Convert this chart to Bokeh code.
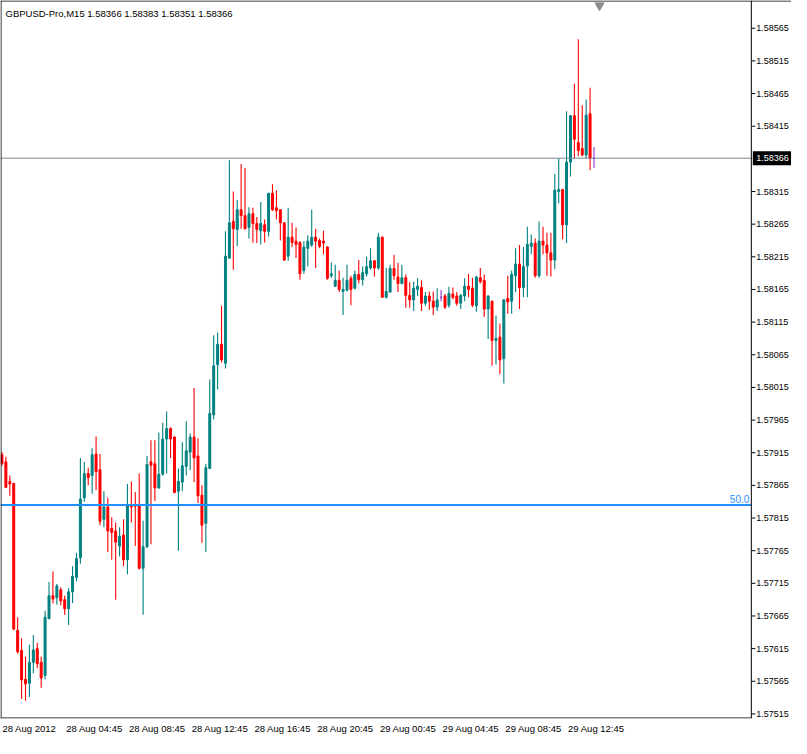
from bokeh.plotting import figure
from bokeh.models import FixedTicker, Label, ColumnDataSource, Range1d
from bokeh.core.properties import value
from bokeh.embed import file_html
from bokeh.resources import INLINE

symbol = "GBPUSD-Pro,M15"

opens = [1.57912, 1.57901, 1.57871, 1.57868, 1.57643, 1.57612, 1.57568, 1.57562, 1.57594, 1.57615,
         1.57594, 1.57574, 1.57661, 1.57696, 1.57693, 1.57705, 1.57690, 1.57676, 1.57702, 1.57724,
         1.57754, 1.57846, 1.57883, 1.57880, 1.57913, 1.57889, 1.57813, 1.57832, 1.57799, 1.57795,
         1.57772, 1.57789, 1.57751, 1.57834, 1.57835, 1.57835, 1.57738, 1.57771, 1.57901, 1.57898,
         1.57861, 1.57882, 1.57936, 1.57952, 1.57939, 1.57856, 1.57870, 1.57894, 1.57916, 1.57939,
         1.57910, 1.57850, 1.57807, 1.57891, 1.57973, 1.58050, 1.58081, 1.58052, 1.58213, 1.58269,
         1.58257, 1.58287, 1.58278, 1.58260, 1.58281, 1.58266, 1.58255, 1.58264, 1.58254, 1.58312,
         1.58290, 1.58287, 1.58267, 1.58216, 1.58245, 1.58239, 1.58237, 1.58194, 1.58228, 1.58233,
         1.58245, 1.58240, 1.58239, 1.58230, 1.58186, 1.58170, 1.58179, 1.58162, 1.58164, 1.58182,
         1.58167, 1.58188, 1.58180, 1.58189, 1.58198, 1.58209, 1.58198, 1.58245, 1.58153, 1.58161,
         1.58197, 1.58184, 1.58174, 1.58183, 1.58156, 1.58149, 1.58165, 1.58168, 1.58144, 1.58155,
         1.58147, 1.58138, 1.58153, 1.58155, 1.58141, 1.58158, 1.58155, 1.58144, 1.58155, 1.58170,
         1.58167, 1.58140, 1.58183, 1.58179, 1.58135, 1.58147, 1.58087, 1.58092, 1.58059, 1.58151,
         1.58147, 1.58186, 1.58204, 1.58168, 1.58201, 1.58231, 1.58236, 1.58186, 1.58239, 1.58233,
         1.58221, 1.58210, 1.58315, 1.58318, 1.58264, 1.58360, 1.58431, 1.58390, 1.58381, 1.58371,
         1.58434, 1.58366]

highs = [1.57916, 1.57909, 1.57880, 1.57869, 1.57663, 1.57631, 1.57603, 1.57621, 1.57636, 1.57624,
         1.57603, 1.57673, 1.57717, 1.57733, 1.57714, 1.57709, 1.57696, 1.57708, 1.57741, 1.57762,
         1.57907, 1.57901, 1.57892, 1.57922, 1.57940, 1.57913, 1.57856, 1.57846, 1.57816, 1.57808,
         1.57801, 1.57813, 1.57867, 1.57871, 1.57855, 1.57883, 1.57811, 1.57910, 1.57934, 1.57934,
         1.57946, 1.57961, 1.57978, 1.57954, 1.57940, 1.57891, 1.57931, 1.57963, 1.57945, 1.58014,
         1.57937, 1.57865, 1.57898, 1.58027, 1.58095, 1.58099, 1.58140, 1.58254, 1.58363, 1.58315,
         1.58302, 1.58357, 1.58351, 1.58291, 1.58290, 1.58276, 1.58299, 1.58272, 1.58313, 1.58326,
         1.58317, 1.58288, 1.58268, 1.58290, 1.58267, 1.58260, 1.58239, 1.58239, 1.58248, 1.58287,
         1.58258, 1.58243, 1.58255, 1.58231, 1.58206, 1.58203, 1.58194, 1.58183, 1.58203, 1.58186,
         1.58194, 1.58210, 1.58200, 1.58215, 1.58228, 1.58210, 1.58252, 1.58246, 1.58198, 1.58203,
         1.58218, 1.58206, 1.58203, 1.58188, 1.58176, 1.58177, 1.58182, 1.58179, 1.58161, 1.58162,
         1.58162, 1.58167, 1.58164, 1.58158, 1.58169, 1.58168, 1.58161, 1.58158, 1.58182, 1.58189,
         1.58183, 1.58186, 1.58198, 1.58188, 1.58156, 1.58148, 1.58125, 1.58113, 1.58150, 1.58186,
         1.58194, 1.58228, 1.58233, 1.58230, 1.58261, 1.58249, 1.58243, 1.58269, 1.58261, 1.58252,
         1.58252, 1.58342, 1.58365, 1.58319, 1.58438, 1.58432, 1.58480, 1.58548, 1.58447, 1.58456,
         1.58474, 1.58383]

lows = [1.57895, 1.57861, 1.57849, 1.57643, 1.57607, 1.57538, 1.57535, 1.57541, 1.57577, 1.57585,
        1.57555, 1.57568, 1.57660, 1.57684, 1.57682, 1.57681, 1.57667, 1.57651, 1.57685, 1.57718,
        1.57745, 1.57840, 1.57865, 1.57852, 1.57858, 1.57804, 1.57801, 1.57763, 1.57751, 1.57690,
        1.57756, 1.57741, 1.57729, 1.57808, 1.57772, 1.57736, 1.57667, 1.57769, 1.57775, 1.57841,
        1.57860, 1.57880, 1.57883, 1.57907, 1.57853, 1.57765, 1.57856, 1.57880, 1.57888, 1.57870,
        1.57838, 1.57777, 1.57763, 1.57890, 1.57966, 1.58012, 1.58053, 1.58044, 1.58212, 1.58195,
        1.58231, 1.58258, 1.58257, 1.58243, 1.58237, 1.58236, 1.58234, 1.58237, 1.58246, 1.58285,
        1.58272, 1.58240, 1.58209, 1.58209, 1.58230, 1.58213, 1.58180, 1.58189, 1.58200, 1.58230,
        1.58198, 1.58228, 1.58219, 1.58180, 1.58183, 1.58169, 1.58161, 1.58126, 1.58162, 1.58141,
        1.58165, 1.58174, 1.58171, 1.58185, 1.58195, 1.58185, 1.58195, 1.58152, 1.58151, 1.58160,
        1.58180, 1.58161, 1.58173, 1.58137, 1.58137, 1.58132, 1.58155, 1.58132, 1.58140, 1.58134,
        1.58126, 1.58132, 1.58147, 1.58135, 1.58137, 1.58150, 1.58140, 1.58135, 1.58147, 1.58153,
        1.58138, 1.58131, 1.58174, 1.58123, 1.58089, 1.58048, 1.58050, 1.58035, 1.58021, 1.58128,
        1.58128, 1.58161, 1.58135, 1.58153, 1.58153, 1.58219, 1.58183, 1.58183, 1.58219, 1.58186,
        1.58185, 1.58196, 1.58297, 1.58242, 1.58236, 1.58338, 1.58366, 1.58369, 1.58369, 1.58366,
        1.58348, 1.58351]

closes = [1.57898, 1.57862, 1.57867, 1.57645, 1.57610, 1.57567, 1.57561, 1.57594, 1.57613, 1.57592,
          1.57570, 1.57663, 1.57696, 1.57691, 1.57711, 1.57688, 1.57676, 1.57702, 1.57726, 1.57753,
          1.57844, 1.57883, 1.57877, 1.57912, 1.57886, 1.57810, 1.57832, 1.57795, 1.57793, 1.57778,
          1.57787, 1.57751, 1.57834, 1.57832, 1.57833, 1.57738, 1.57771, 1.57897, 1.57896, 1.57861,
          1.57882, 1.57936, 1.57952, 1.57936, 1.57854, 1.57871, 1.57895, 1.57918, 1.57939, 1.57907,
          1.57849, 1.57804, 1.57892, 1.57975, 1.58048, 1.58081, 1.58057, 1.58216, 1.58267, 1.58258,
          1.58287, 1.58278, 1.58258, 1.58281, 1.58266, 1.58257, 1.58266, 1.58254, 1.58312, 1.58287,
          1.58286, 1.58267, 1.58210, 1.58245, 1.58237, 1.58234, 1.58189, 1.58230, 1.58239, 1.58245,
          1.58239, 1.58231, 1.58236, 1.58182, 1.58189, 1.58179, 1.58165, 1.58165, 1.58179, 1.58165,
          1.58188, 1.58180, 1.58191, 1.58200, 1.58209, 1.58198, 1.58245, 1.58153, 1.58162, 1.58197,
          1.58186, 1.58174, 1.58183, 1.58156, 1.58149, 1.58167, 1.58170, 1.58144, 1.58155, 1.58147,
          1.58138, 1.58149, 1.58153, 1.58138, 1.58159, 1.58153, 1.58144, 1.58156, 1.58170, 1.58165,
          1.58141, 1.58184, 1.58177, 1.58135, 1.58155, 1.58087, 1.58090, 1.58057, 1.58149, 1.58146,
          1.58188, 1.58204, 1.58168, 1.58200, 1.58234, 1.58236, 1.58186, 1.58239, 1.58233, 1.58221,
          1.58210, 1.58317, 1.58318, 1.58264, 1.58360, 1.58431, 1.58395, 1.58378, 1.58371, 1.58432,
          1.58366, 1.58366]

time_labels = ["28 Aug 2012", "28 Aug 04:45", "28 Aug 08:45", "28 Aug 12:45", "28 Aug 16:45",
               "28 Aug 20:45", "29 Aug 00:45", "29 Aug 04:45", "29 Aug 08:45", "29 Aug 12:45"]
bars_per_label = 16

price_ticks = [1.57515, 1.57565, 1.57615, 1.57665, 1.57715, 1.57765, 1.57815, 1.57865, 1.57915,
               1.57965, 1.58015, 1.58065, 1.58115, 1.58165, 1.58215, 1.58265, 1.58315, 1.58415,
               1.58465, 1.58515, 1.58565]

current_price = 1.58366
level_price = 1.57835
level_text = "50.0"

# ---------------------------------------------------------------
UP = "#008080"
DOWN = "#FF0000"
DOJI = "#9932CC"
FONT = "Liberation Sans"

W, H = 791, 738
BOTTOM = 20                      # height of the time-axis panel
FRAME_W, FRAME_H = W, H - BOTTOM

n = len(opens)
x_start = -0.375
chart_right = x_start + 766 / 4.0      # chart area / price-scale boundary
x_end = x_start + 807 / 4.0
y_start, y_end = 1.57508, 1.586075
pxu = FRAME_W / (x_end - x_start)      # pixels per bar
pyu = FRAME_H / (y_end - y_start)      # pixels per price unit

idx = list(range(n))
colors = [UP if c > o else (DOWN if c < o else DOJI) for o, c in zip(opens, closes)]
src = ColumnDataSource(dict(
    x=idx, h=highs, l=lows,
    top=[max(o, c) for o, c in zip(opens, closes)],
    bot=[min(o, c) for o, c in zip(opens, closes)],
    col=colors,
))

p = figure(width=W, height=H, output_backend="svg", toolbar_location=None,
           x_range=Range1d(x_start, x_end), y_range=Range1d(y_start, y_end),
           min_border_left=0, min_border_top=0, min_border_right=0,
           min_border_bottom=BOTTOM)
p.background_fill_color = "white"
p.border_fill_color = "white"
p.outline_line_color = None
p.xgrid.visible = False
p.ygrid.visible = False
p.yaxis.visible = False

# candles
p.segment(x0="x", y0="l", x1="x", y1="h", color="col", line_width=1.1, source=src)
p.vbar(x="x", width=0.5, top="top", bottom="bot", fill_color="col", line_color="col",
       line_width=1, source=src)

# horizontal levels (limited to the chart area)
p.segment(x0=[x_start], y0=[current_price], x1=[chart_right], y1=[current_price],
          line_color="#7A8593", line_width=1)
p.segment(x0=[x_start], y0=[level_price], x1=[chart_right], y1=[level_price],
          line_color="#1E90FF", line_width=2)
p.text(x=[chart_right], y=[level_price], text=[level_text], x_offset=-2, y_offset=-2,
       text_align="right", text_baseline="bottom", text_color="#1E90FF",
       text_font=value(FONT), text_font_size="10px")

# chart border
hx, hy = 0.5 / pxu, 0.5 / pyu
p.segment(x0=[x_start + hx, x_start, chart_right, x_start],
          y0=[y_start, y_end - hy, y_start, y_start + hy],
          x1=[x_start + hx, x_end, chart_right, chart_right],
          y1=[y_end, y_end - hy, y_end, y_start + hy],
          line_color="black", line_width=1)

# price scale (right)
p.segment(x0=[chart_right] * len(price_ticks), y0=price_ticks,
          x1=[chart_right + 4 / pxu] * len(price_ticks), y1=price_ticks,
          line_color="black", line_width=1)
p.text(x=[chart_right] * len(price_ticks), y=price_ticks,
       text=[f"{t:.5f}" for t in price_ticks], x_offset=5,
       text_align="left", text_baseline="middle", text_color="black",
       text_font=value(FONT), text_font_size="9px")

# current price box
p.rect(x=[chart_right + 21 / pxu], y=[current_price], width=39, height=14,
       width_units="screen", height_units="screen", fill_color="black", line_color=None)
p.text(x=[chart_right], y=[current_price], text=[f"{current_price:.5f}"], x_offset=5,
       text_align="left", text_baseline="middle", text_color="white",
       text_font=value(FONT), text_font_size="9px")

# title
title = f"{symbol}  {opens[-1]:.5f} {highs[-1]:.5f} {lows[-1]:.5f} {closes[-1]:.5f}"
p.add_layout(Label(x=x_start, y=y_end, text=title, x_offset=5, y_offset=-7,
                   text_baseline="top", text_color="black", text_font=FONT,
                   text_font_size="9.5px"))

# chart-shift marker
p.scatter(x=[n + 0.4], y=[y_end - 5 / pyu], marker="inverted_triangle",
          size=9, color="#8C8C8C")

# time axis (labels drawn starting at their bar, as in the terminal)
xa = p.xaxis[0]
ticks_x = []
for i, lab in enumerate(time_labels):
    half_px = len(lab) * 4.8 / 2 + 1
    ticks_x.append(round(i * bars_per_label + half_px / pxu, 2))
xa.ticker = FixedTicker(ticks=ticks_x)
xa.major_label_overrides = {t: lab for t, lab in zip(ticks_x, time_labels)}
xa.axis_line_color = None
xa.major_tick_out = 0
xa.major_tick_in = 0
xa.major_tick_line_color = None
xa.minor_tick_line_color = None
xa.major_label_standoff = 4
xa.major_label_text_font = FONT
xa.major_label_text_font_size = "9.5px"
xa.major_label_text_color = "black"

open("out.html", "w").write(file_html(p, INLINE))
